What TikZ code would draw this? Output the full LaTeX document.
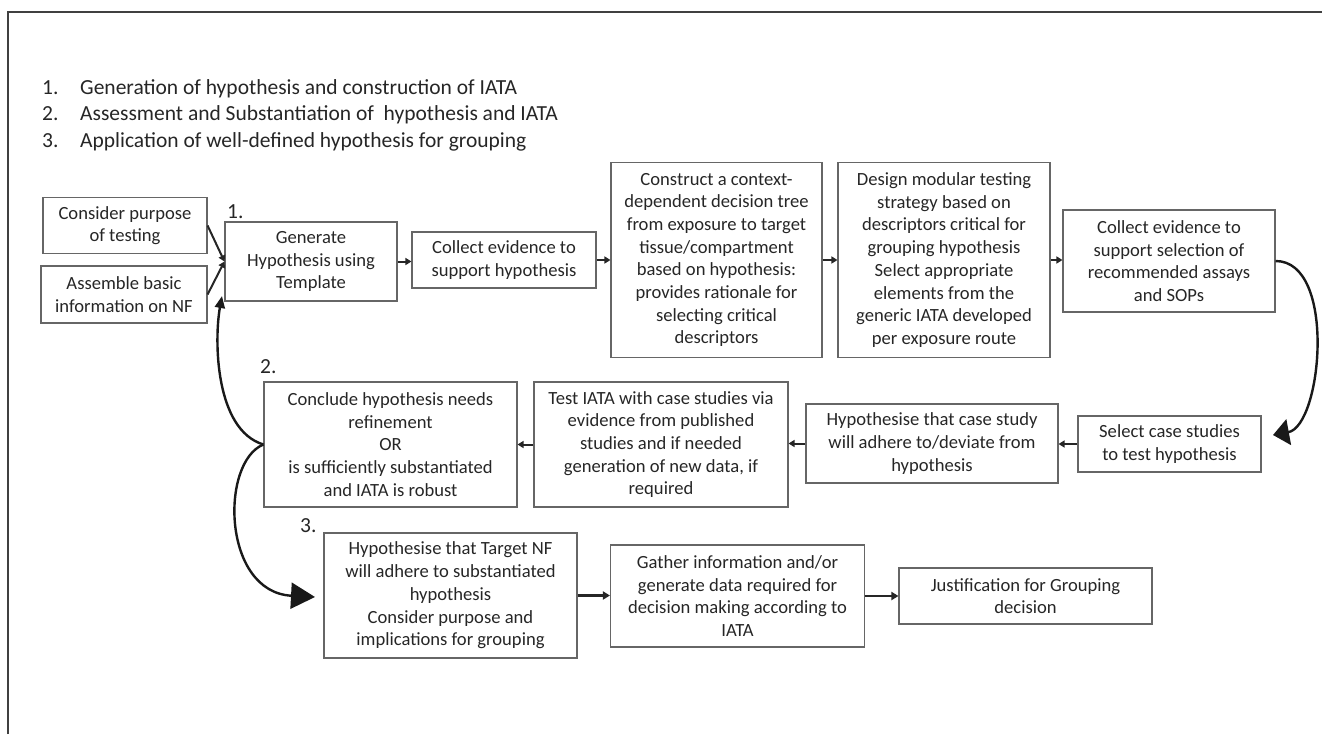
\documentclass[tikz,border=0pt]{standalone}
\usepackage{fontspec}
\setmainfont{Carlito}
\usetikzlibrary{arrows.meta}

\begin{document}
\begin{tikzpicture}[x=1pt,y=-1pt,
  box/.style={draw=black!60,line width=1.1pt,align=center,inner sep=0pt,
    text=black!85,font=\fontsize{18.6}{22.7}\selectfont},
  lbl/.style={font=\fontsize{21.5}{26}\selectfont,text=black!85,inner sep=0pt,anchor=base west},
  arr/.style={-{Triangle[length=6pt,width=7pt]},line width=2pt,black!85},
  bigarr/.style={-{Triangle[length=7pt,width=8pt]},line width=2.8pt,black!85},
  loop/.style={line width=2.4pt,black!90}]

  \useasboundingbox (0,0) rectangle (1322,734);
  \draw[line width=2pt,black!75] (8,734) -- (8,12) -- (1322,12);

  \draw (42,94) node[lbl] (n1) {1.}
  ++(0,26.5) node[lbl] (n2) {2.}
  ++(0,26.5) node[lbl] (n3) {3.};

  \draw (80,94) node[lbl] (s1) {Generation of hypothesis and construction of IATA}
  ++(0,26.5) node[lbl] (s2) {Assessment and Substantiation of~ hypothesis and IATA}
  ++(0,26.5) node[lbl] (s3) {Application of well-defined hypothesis for grouping};

  % step 1
  \draw (125,225.5) node[box,minimum width=164,minimum height=56] (consider) {Consider purpose\\of testing};
  \draw (124,294.5) node[box,minimum width=166,minimum height=57] (assemble) {Assemble basic\\information on NF};
  \draw (311,261.5) node[box,minimum width=172,minimum height=79] (generate) {Generate\\Hypothesis using\\Template};
  \draw (504,260) node[box,minimum width=184,minimum height=56] (collectA) {Collect evidence to\\support hypothesis};
  \draw (716.5,260) node[box,minimum width=211,minimum height=195] (construct) {Construct a context-\\dependent decision tree\\from exposure to target\\tissue/compartment\\based on hypothesis:\\provides rationale for\\selecting critical\\descriptors};
  \draw (944,260) node[box,minimum width=212,minimum height=195] (design) {Design modular testing\\strategy based on\\descriptors critical for\\grouping hypothesis\\Select appropriate\\elements from the\\generic IATA developed\\per exposure route};
  \draw (1169,261) node[box,minimum width=212,minimum height=102] (collectB) {Collect evidence to\\support selection of\\recommended assays\\and SOPs};

  % step 2
  \draw (1169.5,444) node[box,minimum width=183,minimum height=56] (select) {Select case studies\\to test hypothesis};
  \draw (932,443.5) node[box,minimum width=252,minimum height=79] (hypcase) {Hypothesise that case study\\will adhere to/deviate from\\hypothesis};
  \draw (661,444.5) node[box,minimum width=254,minimum height=125] (testiata) {Test IATA with case studies via\\evidence from published\\studies and if needed\\generation of new data, if\\required};
  \draw (390.5,444.5) node[box,minimum width=253,minimum height=125] (conclude) {Conclude hypothesis needs\\refinement\\OR\\is sufficiently substantiated\\and IATA is robust};

  % step 3
  \draw (450.5,595.5) node[box,minimum width=253,minimum height=125] (hyptarget) {Hypothesise that Target NF\\will adhere to substantiated\\hypothesis\\Consider purpose and\\implications for grouping};
  \draw (737.5,596) node[box,minimum width=254,minimum height=102] (gather) {Gather information and/or\\generate data required for\\decision making according to\\IATA};
  \draw (1025.5,596) node[box,minimum width=253,minimum height=56] (justif) {Justification for Grouping\\decision};

  \draw (227,218) node[lbl] (l1) {1.};
  \draw (260,373) node[lbl] (l2) {2.};
  \draw (300,532) node[lbl] (l3) {3.};

  \draw[arr] (consider.east) -- (generate.west);
  \draw[arr] (assemble.east) -- (generate.west);
  \draw[arr] (generate.east) -- (generate.east -| collectA.west);
  \draw[arr] (collectA.east) -- (collectA.east -| construct.west);
  \draw[arr] (construct.east) -- (construct.east -| design.west);
  \draw[arr] (design.east) -- (design.east -| collectB.west);

  \draw[arr] (select.west) -- (select.west -| hypcase.east);
  \draw[arr] (hypcase.west) -- (hypcase.west -| testiata.east);
  \draw[arr] (testiata.west) -- (testiata.west -| conclude.east);

  \draw[bigarr] (hyptarget.east) -- (hyptarget.east -| gather.west);
  \draw[bigarr] (gather.east) -- (gather.east -| justif.west);

  \coordinate (selTip) at (1273,435);
  \coordinate (genTip) at (222,296);
  \coordinate (tgtTip) at (315,597);

  \draw[loop,-{Triangle[length=16pt,width=26pt]}] (collectB.east) .. controls (1337,261) and (1322,426) .. (selTip);
  \draw[loop,-{Triangle[length=12pt,width=10pt]}] (conclude.west) .. controls (215,430) and (214,340) .. (genTip);
  \draw[loop,-{Triangle[length=24pt,width=26pt]}] (conclude.west) .. controls (220,462) and (222,592) .. (tgtTip);

\end{tikzpicture}
\end{document}
